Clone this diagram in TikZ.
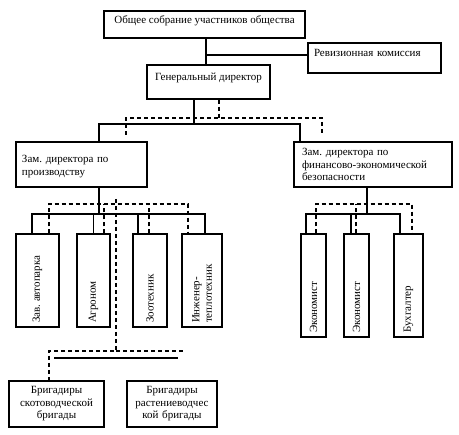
\documentclass[tikz,border=0pt]{standalone}
\usepackage{fontspec}
\setmainfont{Liberation Serif}
\usepackage{graphicx}
\usepackage{tikz}
\usetikzlibrary{calc}
\frenchspacing

\begin{document}
\begin{tikzpicture}[x=1pt, y=-1pt,
    every node/.style={font=\fontsize{11}{12.5}\selectfont},
    box/.style={draw, line width=1.1pt, inner sep=0pt},
    vbox/.style={box, minimum height=93pt},
    wbox/.style={box, minimum height=103pt},
    line/.style={line width=1.1pt},
    dline/.style={line width=1.1pt, dash pattern=on 4pt off 3pt}]
    \useasboundingbox (0,0) rectangle (459,435);

    % Top level
    \node[box, minimum width=201pt, minimum height=27pt, text depth=9.7pt] (meeting) at (204.5,24.5) {Общее собрание участников общества};
    \node[box, minimum width=133pt, minimum height=30pt, text width=121pt, align=left, text depth=10.7pt] (rev) at (374.5,58) {Ревизионная комиссия};
    \node[box, minimum width=123pt, minimum height=34pt, text depth=10.7pt] (gen) at (208.5,82) {Генеральный директор};

    % Deputies
    \node[box, minimum width=131pt, minimum height=45pt, text width=119pt, align=left, text depth=11.2pt] (prod) at (81.5,164.5) {Зам. директора по\\производству};
    \node[box, minimum width=158pt, minimum height=45pt, text width=142pt, align=left] (fin) at (373,164.5) {Зам. директора по\\финансово-экономической\\безопасности};

    % Production staff
    \node[vbox, minimum width=43pt] (park) at (37.5,280.5) {\rotatebox{90}{\parbox{85pt}{Зав. автопарка}}\hspace{15pt}};
    \node[vbox, minimum width=33pt] (agro) at (93.5,280.5) {\rotatebox{90}{\parbox{85pt}{Агроном}}\hspace{9pt}};
    \node[vbox, minimum width=34pt] (zoo) at (150,280.5) {\rotatebox{90}{\parbox{85pt}{Зоотехник}}\hspace{6pt}};
    \node[vbox, minimum width=40pt] (eng) at (202,280.5) {\rotatebox{90}{\parbox{85pt}{Инженер-\\теплотехник}}};

    % Finance staff
    \node[wbox, minimum width=25pt] (eco1) at (313.5,285.5) {\rotatebox{90}{\parbox{95pt}{Экономист}}};
    \node[wbox, minimum width=25pt] (eco2) at (356.5,285.5) {\rotatebox{90}{\parbox{95pt}{Экономист}}};
    \node[wbox, minimum width=29pt] (acc) at (408.5,285.5) {\rotatebox{90}{\parbox{95pt}{Бухгалтер}}};

    % Brigades
    \node[box, minimum width=95pt, minimum height=46pt, text width=91pt, align=center] (brigA) at (56.5,404) {Бригадиры\\скотоводческой\\бригады};
    \node[box, minimum width=90pt, minimum height=46pt, text width=86pt, align=center] (brigB) at (172,404) {Бригадиры\\растениеводчес\\кой бригады};

    % Junction points
    \coordinate (genIn) at (206,55);
    \coordinate (genOut) at (194,124);
    \coordinate (prodIn) at (99,124);
    \coordinate (finIn) at (300,124);
    \coordinate (genDash) at (219,118);
    \coordinate (prodDash) at (126,135);
    \coordinate (finDash) at (322,135);
    \coordinate (prodOut) at (99,214);
    \coordinate (prodDashBar) at (49,204);
    \coordinate (finOut) at (367,214);
    \coordinate (finDashBar) at (367,204);
    \coordinate (brigTop) at (116,199);
    \coordinate (brigDash) at (116,351);
    \coordinate (brigDashEnd) at (183,351);
    \coordinate (brigL) at (54,358);
    \coordinate (brigR) at (178,358);

    % Top connectors
    \draw[line] (meeting.south -| genIn) -- (gen.north -| genIn);
    \draw[line] (genIn) -- ([yshift=3pt]rev.west);

    % General director to deputies
    \draw[line] (gen.south -| genOut) -- (genOut);
    \draw[line] (prod.north -| prodIn) -- (prodIn) -- (finIn) -- (fin.north -| finIn);
    \draw[dline] (gen.south -| genDash) -- (genDash);
    \draw[dline] (prodDash) |- (finDash |- genDash) -- (finDash);

    % Production branch
    \draw[line] (prod.south -| prodOut) -- (prodOut);
    \draw[line] ([xshift=-5.5pt]park.north) |- ([xshift=3pt]eng.north |- prodOut) -- ([xshift=3pt]eng.north);
    \draw[line] (agro.north) -- (agro.north |- prodOut);
    \draw[line] ([xshift=-12pt]zoo.north) -- ([xshift=-12pt]zoo.north |- prodOut);
    \draw[dline] ([xshift=11.5pt]park.north) |- ([xshift=-14pt]eng.north |- prodDashBar) -- ([xshift=-14pt]eng.north);
    \draw[dline] ([xshift=10.5pt]agro.north) -- ([xshift=10.5pt]agro.north |- prodDashBar);
    \draw[dline] ([xshift=-1pt]zoo.north) -- ([xshift=-1pt]zoo.north |- prodDashBar);

    % Finance branch
    \draw[line] (fin.south -| finOut) -- (finOut);
    \draw[line] ([xshift=-7.5pt]eco1.north) |- ([xshift=-8.5pt]acc.north |- finOut) -- ([xshift=-8.5pt]acc.north);
    \draw[line] ([xshift=-5.5pt]eco2.north) -- ([xshift=-5.5pt]eco2.north |- finOut);
    \draw[dline] ([xshift=2.5pt]eco1.north) |- ([xshift=3.5pt]acc.north |- finDashBar) -- ([xshift=3.5pt]acc.north);
    \draw[dline] ([xshift=-0.5pt]eco2.north) -- ([xshift=-0.5pt]eco2.north |- finDashBar);

    % Brigades
    \draw[dline] (brigTop) -- (brigDash) -| ([xshift=-7.5pt]brigA.north);
    \draw[dline] (brigDash) -- (brigDashEnd);
    \draw[line] (brigL) -- (brigR);
\end{tikzpicture}
\end{document}
